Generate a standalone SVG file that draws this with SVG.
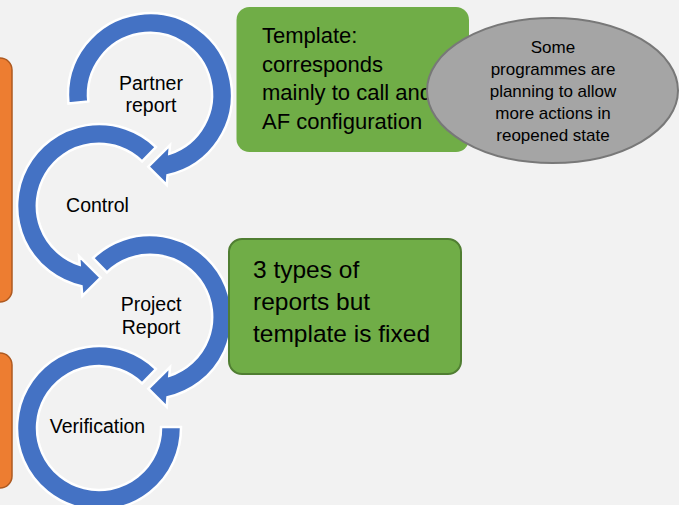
<svg xmlns="http://www.w3.org/2000/svg" width="679" height="505" viewBox="0 0 679 505">
<style>
.bg{fill:#F2F2F2}
.orange{fill:#ED7D31;stroke:#AE5A21;stroke-width:1.5}
.arc{fill:#4472C4;stroke:#FFFFFF;stroke-width:2.5;stroke-linejoin:miter}
.green1{fill:#70AD47}
.green2{fill:#70AD47;stroke:#507E32;stroke-width:2}
.oval{fill:#A5A5A5;stroke:#787878;stroke-width:2}
text{font-family:"Liberation Sans",Arial,sans-serif;fill:#000000}
.lbl{font-size:19.5px;text-anchor:middle}
.b1{font-size:22px}
.b2{font-size:24.5px}
.ov{font-size:17px;text-anchor:middle}
</style>
<defs>
<path id="arrowMid" d="M -56.96 -58.99 A 82 82 0 1 1 17.5 80.2 L 16.7 90 L -1.7 71.7 L 20 50 L 19.3 58.8 A 62 62 0 1 0 -43.07 -44.6 Z"/>
</defs>
<rect class="bg" x="0" y="0" width="679" height="505"/>

<g id="side-box-1"><rect class="orange" x="-20" y="58" width="32" height="244" rx="12"/></g>
<g id="side-box-2"><rect class="orange" x="-20" y="353" width="32" height="135" rx="12"/></g>

<g id="connectors"></g>

<g id="partner-report">
<path class="arc" transform="translate(150,95)" d="M -81.55 8.57 A 82 82 0 1 1 17.5 80.2 L 16.7 90 L -1.7 71.7 L 20 50 L 19.3 58.8 A 62 62 0 1 0 -61.66 6.48 Z"/>
<text class="lbl" x="151" y="90">Partner</text>
<text class="lbl" x="151" y="112">report</text>
</g>

<g id="control">
<use class="arc" href="#arrowMid" transform="translate(99,206) scale(-1,1)"/>
<text class="lbl" x="97.5" y="212">Control</text>
</g>

<g id="project-report">
<use class="arc" href="#arrowMid" transform="translate(150,317)"/>
<text class="lbl" x="151" y="311">Project</text>
<text class="lbl" x="151" y="334">Report</text>
</g>

<g id="verification">
<path class="arc" transform="translate(99,428)" d="M 56.96 -58.99 A 82 82 0 1 0 82 -1 L 62 -1 A 62 62 0 1 1 43.07 -44.6 Z"/>
<text class="lbl" x="97.5" y="433">Verification</text>
</g>

<g id="template-box">
<rect class="green1" x="236.5" y="7" width="232.5" height="145" rx="13"/>
<text class="b1" x="262" y="43">Template:</text>
<text class="b1" x="262" y="71.7">corresponds</text>
<text class="b1" x="262" y="100.4">mainly to call and</text>
<text class="b1" x="262" y="129">AF configuration</text>
</g>

<g id="reopened-note">
<ellipse class="oval" cx="552.5" cy="90.5" rx="125.5" ry="72.5"/>
<text class="ov" x="553" y="53">Some</text>
<text class="ov" x="553" y="75">programmes are</text>
<text class="ov" x="553" y="97">planning to allow</text>
<text class="ov" x="553" y="119">more actions in</text>
<text class="ov" x="553" y="141">reopened state</text>
</g>

<g id="types-box">
<rect class="green2" x="229" y="239" width="232" height="135" rx="13"/>
<text class="b2" x="253" y="278">3 types of</text>
<text class="b2" x="253" y="310">reports but</text>
<text class="b2" x="253" y="342">template is fixed</text>
</g>
</svg>
